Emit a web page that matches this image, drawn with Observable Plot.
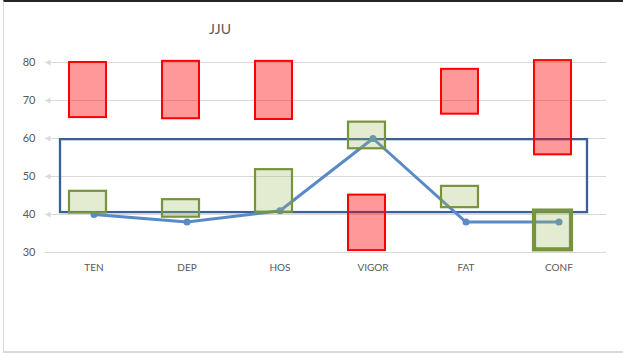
<!DOCTYPE html>
<html>
<head>
<meta charset="utf-8">
<script src="https://cdn.jsdelivr.net/npm/d3@7"></script>
<script src="https://cdn.jsdelivr.net/npm/@observablehq/plot@0.6"></script>
<style>
  html, body { margin: 0; padding: 0; background: #fff; }
  #chart { position: relative; width: 623px; height: 353px; overflow: hidden; font-family: Lato, "Open Sans", sans-serif; }
  #frame { position: absolute; left: 3px; top: 0; width: 640px; height: 349px;
           border-left: 1px solid #d9d9d9; border-bottom: 2px solid #d9d9d9; border-top: 2px solid #262626; box-sizing: border-box; height: 353px; }
  #title { position: absolute; left: 170px; width: 100px; top: 20px; text-align: center;
           font-size: 14px; line-height: 18px; color: #595959; }
  #chart svg { position: absolute; left: 0; top: 0; }
</style>
</head>
<body>
<div id="chart">
  <div id="frame"></div>
  <div id="title">JJU</div>
</div>
<script>
// POMS subscales
const scales = ["TEN", "DEP", "HOS", "VIGOR", "FAT", "CONF"];
// red range boxes (low / high T-score)
const redLow  = [65.5, 65.2, 65.0, 30.5, 66.4, 55.7];
const redHigh = [80.0, 80.3, 80.3, 45.1, 78.2, 80.5];
// green range boxes
const greenLow  = [40.4, 39.3, 40.6, 57.3, 41.8, 30.7];
const greenHigh = [46.1, 43.9, 51.8, 64.3, 47.4, 40.9];
// profile line
const scores = [40, 38, 41, 60, 38, 38];
// normal band
const normLow = 40.5;
const normHigh = 59.7;
// axis ticks
const yTicks = [30, 40, 50, 60, 70, 80];

const rows = scales.map((s, i) => ({
  scale: s,
  redLow: redLow[i], redHigh: redHigh[i],
  greenLow: greenLow[i], greenHigh: greenHigh[i],
  score: scores[i]
}));

const boxInset = {insetLeft: 22, insetRight: 34};

const chart = Plot.plot({
  width: 623,
  height: 353,
  marginLeft: 45,
  marginRight: 17,
  marginTop: 62,
  marginBottom: 101,
  style: {fontFamily: "Lato, 'Open Sans', sans-serif", background: "transparent", overflow: "visible"},
  x: {type: "band", domain: scales, padding: 0},
  y: {domain: [30, 80]},
  marks: [
    Plot.gridY(yTicks, {stroke: "#d9d9d9", strokeOpacity: 1, strokeWidth: 1}),
    Plot.dot(yTicks.filter(t => t > 30), {
      y: d => d, frameAnchor: "left", symbol: "triangle", rotate: -90,
      r: 2.2, dx: 3.3, fill: "#d9d9d9", stroke: null
    }),
    Plot.rect([{from: scales[0], to: scales[scales.length - 1], lo: normLow, hi: normHigh}], {
      x1: "from", x2: "to", y1: "lo", y2: "hi",
      fill: "none", stroke: "#3a6098", strokeWidth: 2.3,
      insetLeft: 13, insetRight: 18
    }),
    Plot.line(rows, {x: "scale", y: "score", stroke: "#5a8ac6", strokeWidth: 3}),
    Plot.dot(rows, {x: "scale", y: "score", r: 3.5, fill: "#5a8ac6", stroke: null}),
    Plot.barY(rows, {
      x: "scale", y1: "redLow", y2: "redHigh",
      fill: "#ff0000", fillOpacity: 0.4, stroke: "#ff0000", strokeWidth: 2, ...boxInset
    }),
    Plot.barY(rows.filter(d => d.scale !== "CONF"), {
      x: "scale", y1: "greenLow", y2: "greenHigh",
      fill: "#9bbb59", fillOpacity: 0.28, stroke: "#77933c", strokeWidth: 2.2, ...boxInset
    }),
    Plot.barY(rows.filter(d => d.scale === "CONF"), {
      x: "scale", y1: "greenLow", y2: "greenHigh",
      fill: "#9bbb59", fillOpacity: 0.28, stroke: "#77933c", strokeWidth: 4.2, ...boxInset
    }),
    Plot.axisY(yTicks, {tickSize: 0, tickPadding: 10, fontSize: 11, color: "#595959", label: null}),
    Plot.axisX({tickSize: 0, tickPadding: 11, fontSize: 10, color: "#595959", label: null})
  ]
});

document.getElementById("chart").appendChild(chart);
</script>
</body>
</html>
